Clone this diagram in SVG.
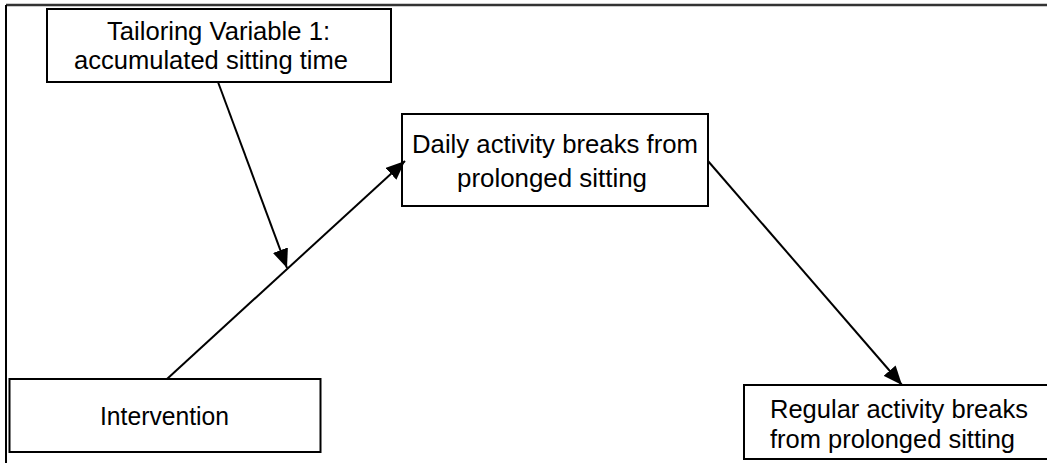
<svg xmlns="http://www.w3.org/2000/svg" width="1047" height="463" viewBox="0 0 1047 463">
  <style>
    .box { fill: #ffffff; stroke: #000000; stroke-width: 2; }
    .lbl { font-family: "Liberation Sans", Arial, sans-serif; font-size: 26px; fill: #000000; text-anchor: start; }
    .edge { stroke: #000000; stroke-width: 2; fill: none; marker-end: url(#arrow); }
  </style>
  <defs>
    <marker id="arrow" markerUnits="userSpaceOnUse" markerWidth="19" markerHeight="16" refX="19" refY="8" orient="auto" viewBox="0 0 19 16">
      <path d="M0,0 L19,8 L0,16 z" fill="#000000"/>
    </marker>
  </defs>
  <rect x="0" y="0" width="1047" height="463" fill="#ffffff"/>
  <g id="frame">
    <line x1="6" y1="5" x2="1047" y2="5" stroke="#333333" stroke-width="2.5"/>
    <line x1="6" y1="5" x2="6" y2="463" stroke="#000000" stroke-width="2"/>
  </g>
  <g id="node-tailoring">
    <rect class="box" x="47" y="9" width="344" height="73"/>
    <text class="lbl" x="107" y="40" textLength="223" lengthAdjust="spacingAndGlyphs">Tailoring Variable 1:</text>
    <text class="lbl" x="74" y="69" textLength="274" lengthAdjust="spacingAndGlyphs">accumulated sitting time</text>
  </g>
  <g id="node-daily">
    <rect class="box" x="402" y="114" width="306" height="92"/>
    <text class="lbl" x="412" y="153" textLength="286" lengthAdjust="spacingAndGlyphs">Daily activity breaks from</text>
    <text class="lbl" x="457" y="187" textLength="190" lengthAdjust="spacingAndGlyphs">prolonged sitting</text>
  </g>
  <g id="node-intervention">
    <rect class="box" x="9.5" y="379" width="311" height="73"/>
    <text class="lbl" x="100" y="425" textLength="129" lengthAdjust="spacingAndGlyphs">Intervention</text>
  </g>
  <g id="node-regular">
    <rect class="box" x="744" y="385" width="320" height="74"/>
    <text class="lbl" x="770" y="418" textLength="258" lengthAdjust="spacingAndGlyphs">Regular activity breaks</text>
    <text class="lbl" x="770" y="448" textLength="245" lengthAdjust="spacingAndGlyphs">from prolonged sitting</text>
  </g>
  <g id="connectors">
    <line class="edge" x1="167" y1="379" x2="405" y2="161"/>
    <line class="edge" x1="218" y1="82" x2="287" y2="268"/>
    <line class="edge" x1="708" y1="161" x2="902" y2="385"/>
  </g>
</svg>
